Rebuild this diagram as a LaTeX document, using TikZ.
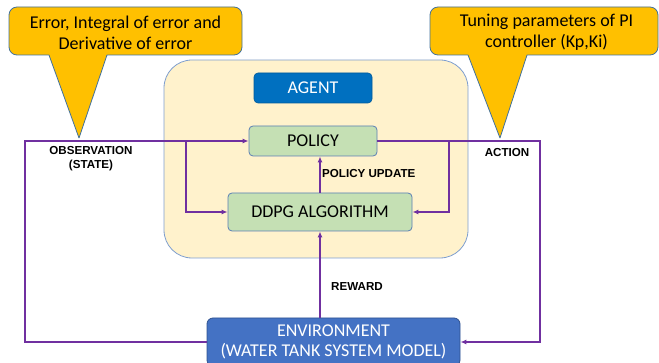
\documentclass[tikz,border=0pt]{standalone}
\usepackage{fontspec}
\setmainfont{Carlito}
\newfontfamily\labfont{Liberation Sans}
\usetikzlibrary{arrows.meta}
\definecolor{purp}{HTML}{7030A0}
\definecolor{calfill}{HTML}{FFC000}
\definecolor{calline}{HTML}{41719C}
\definecolor{agfill}{HTML}{FFF2CC}
\definecolor{agline}{HTML}{7F9FCF}
\definecolor{grfill}{HTML}{C5E0B4}
\definecolor{grline}{HTML}{5B7FB5}
\definecolor{agentblue}{HTML}{0070C0}
\definecolor{envblue}{HTML}{4472C4}
\definecolor{envline}{HTML}{2F528F}
\tikzset{
  callout/.style={fill=calfill,draw=calline,line width=0.8pt,line join=round},
  caltext/.style={font=\fontsize{18}{21}\selectfont,align=center,inner sep=0pt},
  greenbox/.style={rectangle,rounded corners=4pt,fill=grfill,draw=grline,line width=0.8pt,font=\fontsize{18}{20}\selectfont,inner sep=0pt},
  flow/.style={draw=purp,line width=1.5pt,-{Latex[length=6pt,width=5pt]}},
  lab/.style={font=\labfont\bfseries\fontsize{11.6}{14}\selectfont,inner sep=0pt,align=center}
}
\begin{document}
\begin{tikzpicture}[x=1pt,y=-1pt]
\useasboundingbox (0,0) rectangle (659,363);
% agent container
\node[rectangle,rounded corners=28pt,fill=agfill,draw=agline,line width=0.8pt,minimum width=304,minimum height=198] (agentbg) at (316,159) {};
% callouts
\draw[callout] (49,55) -- (79,138) -- (107,55) [rounded corners=8pt] -- (242,55) -- (242,7) -- (9,7) -- (9,55) [sharp corners] -- cycle;
\node[caltext] (obstext) at (125.5,32.5) {Error, Integral of error and\\Derivative of error};
\draw[callout] (468,55) -- (500,138) -- (527,55) [rounded corners=8pt] -- (658,55) -- (658,7) -- (430,7) -- (430,55) [sharp corners] -- cycle;
\node[caltext] (acttext) at (546.5,32.5) {Tuning parameters of PI\\controller (Kp,Ki)};
% agent label
\node[rectangle,rounded corners=4pt,fill=agentblue,draw=agentblue!80!black,line width=0.6pt,minimum width=118,minimum height=30,text=white,font=\fontsize{18}{20}\selectfont] (agent) at (313,88) {AGENT};
% policy & ddpg
\node[greenbox,minimum width=128,minimum height=30] (policy) at (313,141) {POLICY};
\node[greenbox,minimum width=184,minimum height=38] (ddpg) at (320,212) {DDPG ALGORITHM};
% environment
\node[rectangle,rounded corners=6pt,fill=envblue,draw=envline,line width=0.8pt,minimum width=253,minimum height=48,text=white,align=center,font=\fontsize{18}{20}\selectfont,inner sep=0pt] (env) at (333.5,342) {ENVIRONMENT\\(WATER TANK SYSTEM MODEL)};
% coordinates
\coordinate (obsL) at (25,141);
\coordinate (obsB) at (186,141);
\coordinate (actR) at (540,141);
\coordinate (actB) at (449,141);
% connectors
\draw[flow] (env.west) -| (obsL) -- (policy.west);
\draw[flow] (obsB) |- (ddpg.west);
\draw[flow] (policy.east) -- (actR) |- (env.east);
\draw[flow] (actB) |- (ddpg.east);
\draw[flow] (ddpg.north) -- (ddpg.north |- policy.south);
\draw[flow] (env.north -| ddpg.south) -- (ddpg.south);
% labels
\node[lab] (obslab) at (91,159) {OBSERVATION\\(STATE)};
\node[lab] (actlab) at (507,153) {ACTION};
\node[lab,anchor=west] (puplab) at (322,174) {POLICY UPDATE};
\node[lab,anchor=west] (rewlab) at (331,287) {REWARD};
\end{tikzpicture}
\end{document}
